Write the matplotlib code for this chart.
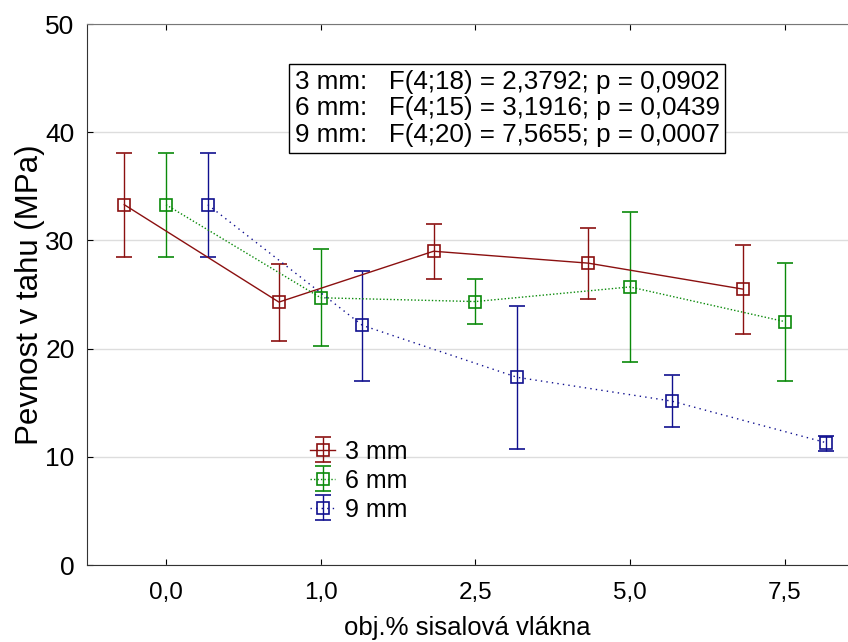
import matplotlib.pyplot as plt
import numpy as np

plt.rcParams['font.family'] = ['Liberation Sans', 'DejaVu Sans']

# data
kategorie = ['0,0', '1,0', '2,5', '5,0', '7,5']
serie = ['3 mm', '6 mm', '9 mm']

prumer_3 = [33.3, 24.3, 29.0, 27.9, 25.5]
horni_3 = [38.1, 27.8, 31.55, 31.15, 29.6]
dolni_3 = [28.45, 20.7, 26.45, 24.6, 21.35]

prumer_6 = [33.3, 24.7, 24.35, 25.7, 22.5]
horni_6 = [38.1, 29.25, 26.45, 32.65, 27.95]
dolni_6 = [28.45, 20.2, 22.25, 18.75, 17.05]

prumer_9 = [33.3, 22.15, 17.35, 15.15, 11.3]
horni_9 = [38.1, 27.2, 23.95, 17.6, 11.95]
dolni_9 = [28.45, 17.05, 10.75, 12.8, 10.55]

statistiky = ['3 mm:   F(4;18) = 2,3792; p = 0,0902',
              '6 mm:   F(4;15) = 3,1916; p = 0,0439',
              '9 mm:   F(4;20) = 7,5655; p = 0,0007']

barvy = ['#8B1010', '#0A8A0A', '#10108F']
styly = ['-', (0, (1, 1.5)), (0, (1, 3))]
posun = [-0.27, 0.0, 0.27]

fig = plt.figure(figsize=(8.48, 6.42), dpi=100)
ax = fig.add_axes([0.1026, 0.1199, 0.8974, 0.8427])

x = np.arange(len(kategorie))
data = [(prumer_3, horni_3, dolni_3), (prumer_6, horni_6, dolni_6), (prumer_9, horni_9, dolni_9)]
handles = []
for i, (p, h, d) in enumerate(data):
    p = np.array(p)
    yerr = [p - np.array(d), np.array(h) - p]
    eb = ax.errorbar(x + posun[i], p, yerr=yerr, color=barvy[i], linestyle=styly[i],
                     linewidth=1.0, elinewidth=1.0, capsize=6, capthick=1.0,
                     marker='s', markersize=8.5, markerfacecolor='none',
                     markeredgecolor=barvy[i], markeredgewidth=1.2, label=serie[i])
    handles.append(eb)

ax.set_xlim(-0.511, 4.41)
ax.set_ylim(0, 50)
ax.set_yticks([0, 10, 20, 30, 40, 50])
ax.set_xticks(x)
ax.set_xticklabels(kategorie)
ax.tick_params(axis='x', direction='in', length=4, labelsize=17.5, pad=12, top=True)
ax.tick_params(axis='y', direction='in', length=4, labelsize=19, pad=9)
ax.grid(axis='y', color='#dddddd', linewidth=1)
ax.set_axisbelow(True)
ax.spines['right'].set_visible(False)
ax.spines['top'].set_color('#777777')
ax.spines['left'].set_color('#333333')
ax.spines['bottom'].set_color('#333333')

ax.set_ylabel('Pevnost v tahu (MPa)', fontsize=22.5, labelpad=0)
ax.set_xlabel('obj.% sisalová vlákna', fontsize=18.5, labelpad=9)

ax.text(0.273, 0.915, '\n'.join(statistiky), transform=ax.transAxes, fontsize=18.7,
        va='top', ha='left', linespacing=1.13,
        bbox=dict(boxstyle='square,pad=0.22', facecolor='white', edgecolor='black', linewidth=1))

ax.legend(handles=handles, loc='upper left', bbox_to_anchor=(0.277, 0.255), frameon=False,
          fontsize=18, handlelength=1.0, handletextpad=0.4, labelspacing=0.2, borderpad=0)

plt.savefig('out.png', dpi=100)
